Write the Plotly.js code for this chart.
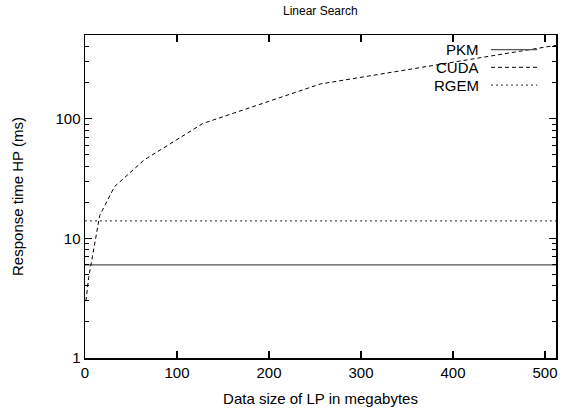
<!DOCTYPE html>
<html>
<head>
<meta charset="utf-8">
<script src="https://cdn.plot.ly/plotly-3.0.1.min.js"></script>
<style>html,body{margin:0;padding:0;background:#fff;}#chart{width:562px;height:415px;}</style>
</head>
<body>
<div id="chart"></div>
<script>
// Data
const sizes = [1, 2, 4, 8, 16, 32, 64, 128, 256, 512];
const cudaMs = [3.0, 3.6, 4.7, 7.0, 15.5, 27, 45, 91, 195, 410];
const pkmX = [0, 512];
const pkmMs = [6.0, 6.0];
const rgemX = [0, 512];
const rgemMs = [14.0, 14.0];
const seriesNames = ["PKM", "CUDA", "RGEM"];
const xTicks = [0, 100, 200, 300, 400, 500];
const yTicks = [1, 10, 100];
const yMinorTicks = [2, 3, 4, 5, 6, 7, 8, 9, 20, 30, 40, 50, 60, 70, 80, 90, 200, 300, 400];

const font = "Liberation Sans, Arial, sans-serif";
const yRange = [0, Math.log10(500)];

const traces = [
  {x: pkmX, y: pkmMs, mode: "lines", name: seriesNames[0], line: {color: "#555555", width: 1.2}, showlegend: false},
  {x: sizes, y: cudaMs, mode: "lines", name: seriesNames[1], line: {color: "#000000", width: 1, dash: "4px,3px"}, showlegend: false},
  {x: rgemX, y: rgemMs, mode: "lines", name: seriesNames[2], line: {color: "#555555", width: 1.2, dash: "2px,3px"}, showlegend: false},
  // invisible trace to activate the minor-tick axis
  {x: [0], y: [1], yaxis: "y2", mode: "markers", marker: {opacity: 0}, showlegend: false, hoverinfo: "skip"}
];

// legend in gnuplot style: text right-aligned, sample to the right
const legY = [0.955, 0.9, 0.845];
const legStyles = [
  {color: "#555555", width: 1.2, dash: "solid"},
  {color: "#000000", width: 1, dash: "4px,3px"},
  {color: "#555555", width: 1.2, dash: "2px,3px"}
];
const annotations = [];
const shapes = [];
seriesNames.forEach((n, i) => {
  annotations.push({xref: "paper", yref: "paper", x: 0.84, y: legY[i], text: n, showarrow: false,
    xanchor: "right", yanchor: "middle", font: {family: font, size: 15, color: "#000"}});
  shapes.push({type: "line", xref: "paper", yref: "paper", x0: 0.862, x1: 0.96, y0: legY[i], y1: legY[i], line: legStyles[i]});
});

const layout = {
  width: 562, height: 415,
  margin: {l: 85, r: 6, t: 35, b: 57},
  paper_bgcolor: "#fff", plot_bgcolor: "#fff",
  font: {family: font, color: "#000"},
  title: {text: "Linear Search", font: {family: font, size: 12, color: "#000"}, x: 0.57, xanchor: "center", y: 0.975, yanchor: "middle"},
  xaxis: {
    range: [0, 512], tickvals: xTicks, ticktext: xTicks.map(String),
    ticks: "inside", ticklen: 7, tickwidth: 1.2, tickcolor: "#000",
    showline: true, linecolor: "#000", linewidth: 1.5, mirror: "ticks",
    showgrid: false, zeroline: false,
    tickfont: {family: font, size: 15, color: "#000"},
    title: {text: "Data size of LP in megabytes", font: {family: font, size: 15, color: "#000"}, standoff: 14}
  },
  yaxis: {
    type: "log", range: yRange, tickvals: yTicks, ticktext: yTicks.map(String),
    ticks: "inside", ticklen: 7, tickwidth: 1.2, tickcolor: "#000",
    showline: true, linecolor: "#000", linewidth: 1.5, mirror: "ticks",
    showgrid: false, zeroline: false,
    tickfont: {family: font, size: 15, color: "#000"},
    title: {text: "Response time HP (ms)", font: {family: font, size: 15, color: "#000"}, standoff: 28}
  },
  yaxis2: {
    type: "log", range: yRange, overlaying: "y", side: "left", anchor: "x",
    tickvals: yMinorTicks, showticklabels: false,
    ticks: "inside", ticklen: 4, tickwidth: 1, tickcolor: "#000",
    showline: false, mirror: "ticks", showgrid: false, zeroline: false
  },
  annotations: annotations,
  shapes: shapes
};

Plotly.newPlot("chart", traces, layout, {staticPlot: true, displayModeBar: false});
</script>
</body>
</html>
